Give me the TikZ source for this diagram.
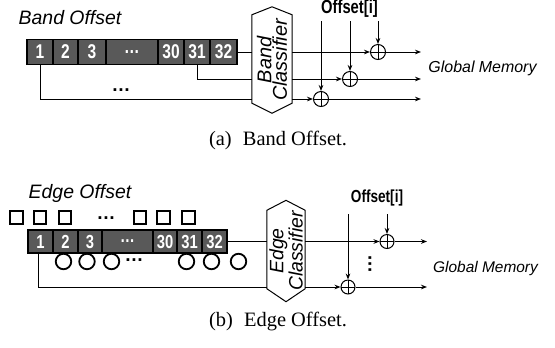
\documentclass[tikz,border=0pt]{standalone}
\usepackage{fontspec}
\setmainfont{Liberation Serif}
\setsansfont{Liberation Sans}
\newfontfamily\cnd[FakeStretch=0.78]{Liberation Sans}
\usetikzlibrary{arrows.meta}
\definecolor{cellgray}{HTML}{595959}

\begin{document}
\begin{tikzpicture}[x=1bp,y=-1bp,
  wire/.style={line width=1bp, draw=black},
  arr/.style={wire, -{Stealth[length=6bp,width=4.6bp]}},
  cell/.style={draw=black, line width=1.1bp, fill=cellgray, text=white,
    inner sep=0, font=\cnd\bfseries\fontsize{20}{20}\selectfont},
  bcell/.style={cell, minimum height=25bp},
  ecell/.style={cell, minimum height=23bp, font=\cnd\bfseries\fontsize{19}{19}\selectfont},
  title/.style={font=\sffamily\itshape\fontsize{19.5}{19.5}\selectfont},
  gmem/.style={font=\sffamily\itshape\fontsize{16}{16}\selectfont},
  offs/.style={font=\cnd\bfseries\fontsize{19}{19}\selectfont},
  clstext/.style={rotate=90, align=center, inner sep=0,
    font=\sffamily\itshape\fontsize{20}{15.5}\selectfont},
  sum/.style={circle, draw=black, line width=1bp, inner sep=0, minimum size=#1,
    path picture={\draw[line width=1bp]
      (path picture bounding box.north) -- (path picture bounding box.south)
      (path picture bounding box.west) -- (path picture bounding box.east);}},
  sq/.style={draw=black, line width=1.9bp, minimum size=12.5bp, inner sep=0},
  ring/.style={circle, draw=black, line width=1.8bp, minimum size=15.5bp, inner sep=0},
  dots/.style={anchor=base, inner sep=0, font=\sffamily\bfseries\fontsize{19}{19}\selectfont},
  caption/.style={font=\fontsize{20.5}{24}\selectfont}
]
\useasboundingbox (0,0) rectangle (555,347);

% ---------------- Band offset ----------------
\node[title] (btitle) at (70,18) {Band Offset};

\node[bcell, minimum width=26bp] (b1)  at (40,52)    {1};
\node[bcell, minimum width=25bp] (b2)  at (65.5,52)  {2};
\node[bcell, minimum width=28bp] (b3)  at (92,52)    {3};
\node[bcell, minimum width=52bp] (bd)  at (132,52)   {\raisebox{-1.5bp}{\ldots}};
\node[bcell, minimum width=26bp] (b30) at (171,52)   {30};
\node[bcell, minimum width=26bp] (b31) at (197,52)   {31};
\node[bcell, minimum width=27bp] (b32) at (223.5,52) {32};

\node[dots] (bdots) at (121,91) {\ldots};

% band classifier (hexagonal box)
\node[minimum width=40bp, minimum height=106bp, inner sep=0] (bc) at (272,60) {};
\draw[line width=1bp]
  ([yshift=-8bp]bc.north west) -- (bc.north) -- ([yshift=-8bp]bc.north east)
  -- ([yshift=10bp]bc.south east) -- (bc.south) -- ([yshift=10bp]bc.south west) -- cycle;
\node[clstext] (bct) at (bc.center) {Band\\Classifier};

% adders
\node[sum=15bp] (p1) at (378,52) {};
\node[sum=15bp] (p2) at (350,79) {};
\node[sum=15bp] (p3) at (321,99) {};
\coordinate (bvt) at (0,21);
\coordinate (bend) at (421,0);

\node[offs] (boff) at (349.5,9) {Offset[i]};
\node[gmem] (bgm) at (482.5,68) {Global Memory};

% inputs to classifier
\draw[wire] (b32.east) -- (bc.west |- b32.east);
\draw[wire] (b31.south) |- (bc.west |- p2);
\draw[wire] (b1.south) |- (bc.west |- p3);

% classifier to adders
\draw[arr] (bc.east |- p1) -- (p1);
\draw[arr] (bc.east |- p2) -- (p2);
\draw[arr] (bc.east |- p3) -- (p3);

% offsets
\draw[arr] (p1 |- bvt) -- (p1);
\draw[arr] (p2 |- bvt) -- (p2);
\draw[arr] (p3 |- bvt) -- (p3);

% outputs
\draw[arr] (p1) -- (p1 -| bend);
\draw[arr] (p2) -- (p2 -| bend);
\draw[arr] (p3) -- (p3 -| bend);

\node[caption] (capa) at (278,140) {(a)\hspace{0.55em}Band Offset.};

% ---------------- Edge offset ----------------
\node[title] (etitle) at (80,193) {Edge Offset};

% neighbour squares
\node[sq] (s1) at (16.5,217.5) {};
\node[sq] (s2) at (40,217.5)   {};
\node[sq] (s3) at (65,217.5)   {};
\node[sq] (s4) at (140,217.5)  {};
\node[sq] (s5) at (163.5,217.5){};
\node[sq] (s6) at (188.5,217.5){};
\node[dots] (sdots) at (106,219) {\ldots};

\node[ecell, minimum width=25bp] (e1)  at (40.5,241.5)  {1};
\node[ecell, minimum width=25bp] (e2)  at (65.5,241.5)  {2};
\node[ecell, minimum width=24bp] (e3)  at (90,241.5)    {3};
\node[ecell, minimum width=51bp] (ed)  at (127.5,241.5) {\raisebox{-1.5bp}{\ldots}};
\node[ecell, minimum width=24bp] (e30) at (165,241.5)   {30};
\node[ecell, minimum width=25bp] (e31) at (189.5,241.5) {31};
\node[ecell, minimum width=25bp] (e32) at (214.5,241.5) {32};

% neighbour circles
\node[ring] (c1) at (63.5,261.5)  {};
\node[ring] (c2) at (87,261.5)    {};
\node[ring] (c3) at (111.5,261.5) {};
\node[ring] (c4) at (186.5,261.5) {};
\node[ring] (c5) at (211.5,261.5) {};
\node[ring] (c6) at (238.5,261.5) {};
\node[dots] (cdots) at (134,261) {\ldots};

% edge classifier (hexagonal box)
\node[minimum width=38bp, minimum height=101bp, inner sep=0] (ec) at (286,251) {};
\draw[line width=1bp]
  ([yshift=-10bp]ec.north west) -- (ec.north) -- ([yshift=-10bp]ec.north east)
  -- ([yshift=13bp]ec.south east) -- (ec.south) -- ([yshift=13bp]ec.south west) -- cycle;
\node[clstext, font=\sffamily\itshape\fontsize{19.5}{15.5}\selectfont] (ect) at (ec.center) {Edge\\Classifier};

\node[sum=14bp] (q1) at (387,241.5) {};
\node[sum=14bp] (q2) at (348,287)   {};
\coordinate (evt) at (0,214);
\coordinate (eend) at (427,0);
\coordinate (ebot) at (0,287);

\node[offs, font=\cnd\bfseries\fontsize{17.5}{17.5}\selectfont] (eoff) at (377,198) {Offset[i]};
\node[gmem, font=\sffamily\itshape\fontsize{15.5}{15.5}\selectfont] (egm) at (485.5,268) {Global Memory};
\node[dots, rotate=90, anchor=center] (vdots) at (370,264) {\ldots};

\draw[wire] (e32.east) -- (ec.west |- e32.east);
\draw[wire] ([xshift=-2.5bp]e1.south) |- (ec.west |- ebot);

\draw[arr] (ec.east |- q1) -- (q1);
\draw[arr] (ec.east |- q2) -- (q2);
\draw[arr] (q1 |- evt) -- (q1);
\draw[arr] (q2 |- evt) -- (q2);
\draw[arr] (q1) -- (q1 -| eend);
\draw[arr] (q2) -- (q2 -| eend);

\node[caption] (capb) at (278,321.5) {(b)\hspace{0.55em}Edge Offset.};
\end{tikzpicture}
\end{document}
